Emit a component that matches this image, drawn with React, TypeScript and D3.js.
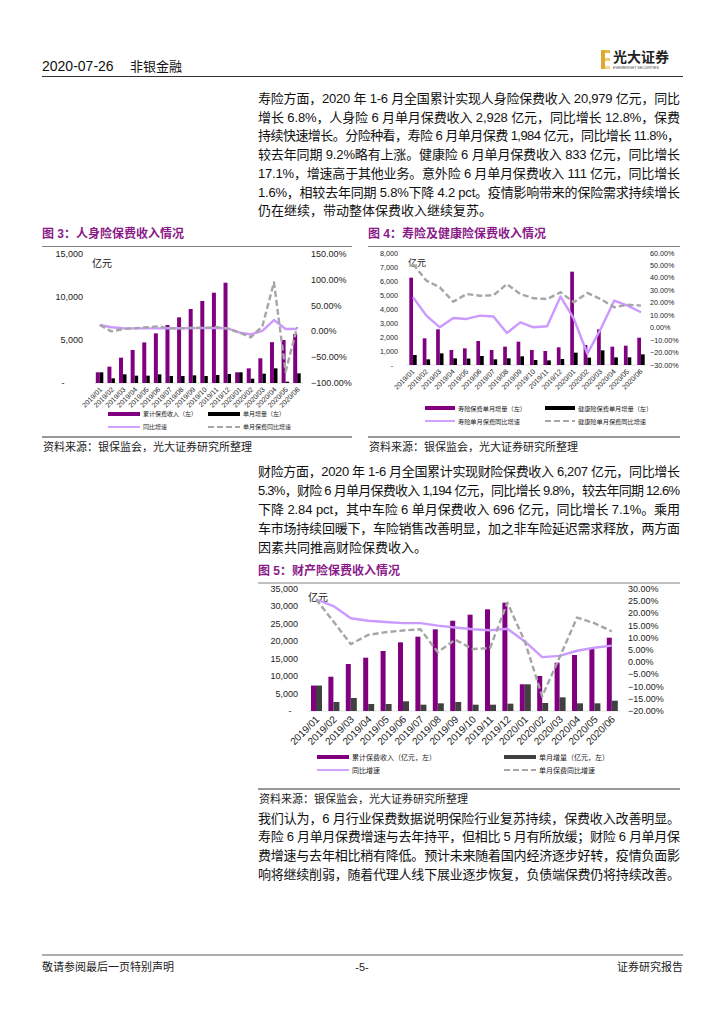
import React from 'react';
import * as d3 from 'd3';

const FONT = "'Liberation Sans', 'Noto Sans CJK SC', sans-serif";

const CAT = ['2019/01','2019/02','2019/03','2019/04','2019/05','2019/06','2019/07','2019/08','2019/09','2019/10','2019/11','2019/12','2020/01','2020/02','2020/03','2020/04','2020/05','2020/06'];

// Fig 3 人身险
const lifeCumPremium = [1244, 1900, 2946, 3837, 4720, 5775, 6744, 7636, 8605, 9535, 10500, 11663, 1244, 1705, 2870, 4750, 5000, 5698];
const lifeMonthlyAdd = [1244, 545, 1008, 853, 853, 1008, 814, 814, 891, 814, 930, 1047, 1244, 500, 1085, 1705, 150, 1124];
const lifeCumYoY = [12.4, 8, 6, 5.8, 5.8, 5.8, 6, 6, 6.4, 6.4, 6.4, 6, -2, -6, 1, 22, 4.6, 4.6];
const lifeMonthlyYoY = [12.4, 0, 4.6, 6, 8, 9.7, 5.8, 5.8, 7, 7, 8.4, 5.8, -2, -11.6, 10, 95, -78, 8.4];
const fig3LeftTicks = [0, 5000, 10000, 15000];
const fig3RightTicks = [-100, -50, 0, 50, 100, 150];
const fig3Legend = ['累计保费收入（左）', '单月增量（左）', '同比增速', '单月保费同比增速'];

// Fig 4 寿险及健康险
const lifeSingle = [6238, 1905, 2548, 1071, 1190, 1714, 1071, 1310, 1667, 1071, 1000, 1262, 6667, 1428, 2548, 1310, 1381, 1950];
const healthSingle = [714, 405, 833, 476, 458, 643, 405, 476, 619, 357, 333, 429, 881, 524, 1048, 548, 548, 762];
const lifeSingleYoY = [24.4, 9.7, 0.3, 7.8, 7, 9.7, 9, -4.3, 4.3, 0.3, 1.1, 25, 7, -21, -1, 21.7, 17.7, 12.4];
const healthSingleYoY = [51, 37.8, 32.4, 20.9, 27, 25.7, 26, 35, 27, 23.6, 23, 28.4, 20.4, 27.9, 23, 16.4, 18.5, 17.7];
const fig4LeftTicks = [0, 1000, 2000, 3000, 4000, 5000, 6000, 7000, 8000];
const fig4RightTicks = [-30, -20, -10, 0, 10, 20, 30, 40, 50, 60];
const fig4Legend = ['寿险保费单月增量（左）', '健康险保费单月增量（左）', '寿险单月保费同比增速', '健康险单月保费同比增速'];

// Fig 5 财产险
const propCum = [7300, 9840, 13480, 15290, 17210, 19700, 21320, 23430, 25900, 27630, 29170, 31070, 7660, 10040, 13860, 16060, 17980, 21030];
const propMonthly = [7300, 2580, 3730, 2010, 2010, 2780, 1810, 2200, 2580, 1810, 1810, 2100, 7660, 2300, 3920, 2200, 2200, 2960];
const propCumYoY = [25.8, 23, 18, 17, 16.5, 16, 16, 15, 14.2, 13.5, 13.1, 13.7, 8.5, 2.1, 2.6, 4.7, 5.9, 6.8];
const propMonthlyYoY = [25.8, 16.7, 7.4, 11.2, 12.3, 13, 13.5, 4.1, 9.2, 5.4, 5.8, 24.4, 8.5, -14, 2, 18.3, 16, 12.6];
const fig5LeftTicks = [0, 5000, 10000, 15000, 20000, 25000, 30000, 35000];
const fig5RightTicks = [-20, -15, -10, -5, 0, 5, 10, 15, 20, 25, 30];
const fig5Legend = ['累计保费收入（亿元，左）', '单月增量（亿元，左）', '同比增速', '单月保费同比增速'];

const para1 = [
  '寿险方面，2020 年 1-6 月全国累计实现人身险保费收入 20,979 亿元，同比',
  '增长 6.8%，人身险 6 月单月保费收入 2,928 亿元，同比增长 12.8%，保费',
  '持续快速增长。分险种看，寿险 6 月单月保费 1,984 亿元，同比增长 11.8%，',
  '较去年同期 9.2%略有上涨。健康险 6 月单月保费收入 833 亿元，同比增长',
  '17.1%，增速高于其他业务。意外险 6 月单月保费收入 111 亿元，同比增长',
  '1.6%，相较去年同期 5.8%下降 4.2 pct。疫情影响带来的保险需求持续增长',
  '仍在继续，带动整体保费收入继续复苏。',
];
const para2 = [
  '财险方面，2020 年 1-6 月全国累计实现财险保费收入 6,207 亿元，同比增长',
  '5.3%，财险 6 月单月保费收入 1,194 亿元，同比增长 9.8%，较去年同期 12.6%',
  '下降 2.84 pct，其中车险 6 单月保费收入 696 亿元，同比增长 7.1%。乘用',
  '车市场持续回暖下，车险销售改善明显，加之非车险延迟需求释放，两方面',
  '因素共同推高财险保费收入。',
];
const para3 = [
  '我们认为，6 月行业保费数据说明保险行业复苏持续，保费收入改善明显。',
  '寿险 6 月单月保费增速与去年持平，但相比 5 月有所放缓；财险 6 月单月保',
  '费增速与去年相比稍有降低。预计未来随着国内经济逐步好转，疫情负面影',
  '响将继续削弱，随着代理人线下展业逐步恢复，负债端保费仍将持续改善。',
];

const PURPLE = '#800080';
const LAV = '#CC99FF';
const GRAY = '#A6A6A6';
const TITLE = '#8B1A89';

type BarS = { values: number[]; color: string; off: number; w: number };
type LineS = { values: number[]; color: string; dash?: string };

type ComboProps = {
  x0: number; x1: number; yB: number; yT: number;
  leftDomain: [number, number]; rightDomain: [number, number];
  leftTicks: number[]; rightTicks: number[];
  leftLabelRight: number; rightLabelLeft: number; tickFont: number; zeroDashX: number;
  unit: { x: number; y: number; size: number };
  bars: BarS[]; lines: LineS[];
  xLabel: { size: number; dx: number; dy: number };
  legend: { rows: number[]; sx: number[]; sw: number; font: number; labels: string[] };
  lineW: number;
};

function Combo(p: ComboProps) {
  const x = d3.scaleBand<string>().domain(CAT).range([p.x0, p.x1]);
  const cx = (c: string) => (x(c) as number) + x.bandwidth() / 2;
  const yl = d3.scaleLinear().domain(p.leftDomain).range([p.yB, p.yT]);
  const yr = d3.scaleLinear().domain(p.rightDomain).range([p.yB, p.yT]);
  const fmtL = (v: number) => (v === 0 ? '-' : d3.format(',')(v));
  const fmtR = (v: number) => d3.format('.2f')(v) + '%';
  const lg = d3.line<number>().x((_, i) => cx(CAT[i])).y((v) => yr(v));
  const leg = p.legend;
  const items = [
    { kind: 'bar', color: p.bars[0].color, dash: undefined as string | undefined },
    { kind: 'bar', color: p.bars[1].color, dash: undefined },
    { kind: 'line', color: p.lines[0].color, dash: p.lines[0].dash },
    { kind: 'line', color: p.lines[1].color, dash: p.lines[1].dash },
  ];
  return (
    <g fontFamily={FONT}>
      <line x1={p.x0} x2={p.x1} y1={p.yB} y2={p.yB} stroke="#D9D9D9" strokeWidth={0.8} />
      {p.leftTicks.map((t) => (
        <text key={'l' + t} x={t === 0 ? p.zeroDashX : p.leftLabelRight} y={yl(t)} fontSize={p.tickFont}
          textAnchor={t === 0 ? 'middle' : 'end'} dominantBaseline="central" fill="#222">{fmtL(t)}</text>
      ))}
      {p.rightTicks.map((t) => (
        <text key={'r' + t} x={p.rightLabelLeft} y={yr(t)} fontSize={p.tickFont}
          textAnchor="start" dominantBaseline="central" fill="#222">{fmtR(t)}</text>
      ))}
      <text x={p.unit.x} y={p.unit.y} fontSize={p.unit.size} dominantBaseline="central" fill="#222">亿元</text>
      {p.bars.map((b, bi) => (
        <g key={'b' + bi}>
          {b.values.map((v, i) => (
            <rect key={i} x={cx(CAT[i]) + b.off} width={b.w} y={yl(v)} height={p.yB - yl(v)} fill={b.color} />
          ))}
        </g>
      ))}
      {p.lines.map((l, li) => (
        <path key={'ln' + li} d={lg(l.values) || ''} fill="none" stroke={l.color} strokeWidth={p.lineW}
          strokeDasharray={l.dash} strokeLinejoin="round" />
      ))}
      {CAT.map((c) => (
        <text key={'x' + c} transform={`translate(${cx(c) + p.xLabel.dx},${p.yB + p.xLabel.dy}) rotate(-45)`}
          fontSize={p.xLabel.size} textAnchor="end" fill="#222">{c}</text>
      ))}
      {items.map((it, i) => {
        const row = Math.floor(i / 2);
        const col = i % 2;
        const y = leg.rows[row];
        const sx = leg.sx[col];
        return (
          <g key={'lg' + i}>
            {it.kind === 'bar' ? (
              <rect x={sx} y={y - 2} width={leg.sw} height={4} fill={it.color} />
            ) : (
              <line x1={sx} x2={sx + leg.sw} y1={y} y2={y} stroke={it.color} strokeWidth={1.8} strokeDasharray={it.dash} />
            )}
            <text x={sx + leg.sw + 3} y={y} fontSize={leg.font} dominantBaseline="central" fill="#222">{leg.labels[i]}</text>
          </g>
        );
      })}
    </g>
  );
}

function Para({ lines, y0, dy, lastFull }: { lines: string[]; y0: number; dy: number; lastFull?: boolean }) {
  return (
    <g fontFamily={FONT} fontSize={13} fill="#111">
      {lines.map((t, i) => {
        const justify = i < lines.length - 1 || lastFull;
        return (
          <text key={i} x={258} y={y0 + i * dy} dominantBaseline="central"
            {...(justify ? { textLength: 422, lengthAdjust: 'spacing' } : {})}>{t}</text>
        );
      })}
    </g>
  );
}

function Title({ x, y, text, x2 }: { x: number; y: number; text: string; x2: number }) {
  return (
    <g fontFamily={FONT}>
      <text x={x} y={y} fontSize={12} fontWeight="bold" fill={TITLE} dominantBaseline="central">{text}</text>
      <line x1={x} x2={x2} y1={y + 12.5} y2={y + 12.5} stroke="#808080" strokeWidth={1} />
    </g>
  );
}

function Source({ x, y, x2 }: { x: number; y: number; x2: number }) {
  return (
    <g fontFamily={FONT}>
      <line x1={x} x2={x2} y1={y} y2={y} stroke="#333" strokeWidth={1} />
      <text x={x + 1} y={y + 9.5} fontSize={11} fill="#222" dominantBaseline="central">资料来源：银保监会，光大证券研究所整理</text>
    </g>
  );
}

export default function App() {
  return (
    <svg width={724} height={1024} style={{ position: 'absolute', left: 0, top: 0, background: '#fff' }}>
      <rect x={0} y={0} width={724} height={1024} fill="#fff" />
      {/* Header */}
      <g fontFamily={FONT}>
        <text x={42} y={66} fontSize={14} fill="#111" dominantBaseline="central">2020-07-26</text>
        <text x={130} y={66} fontSize={13} fill="#111" dominantBaseline="central">非银金融</text>
        <rect x={601} y={50} width={4} height={19} fill="#E0A82E" />
        <rect x={605} y={50} width={5} height={3} fill="#E8B94A" />
        <rect x={605} y={58} width={5} height={3} fill="#F0CC70" />
        <rect x={605} y={66} width={5} height={3} fill="#F4D890" />
        <text x={613} y={57} fontSize={14} fontWeight="bold" fill="#222" dominantBaseline="central">光大证券</text>
        <text x={613} y={68} fontSize={3.6} fill="#444" dominantBaseline="central">EVERBRIGHT SECURITIES</text>
        <line x1={42} x2={683} y1={76.5} y2={76.5} stroke="#333" strokeWidth={1.2} />
      </g>

      <Para lines={para1} y0={98.5} dy={18.7} />

      <Title x={42} y={234} x2={352} text="图 3：人身险保费收入情况" />
      <Title x={368} y={234} x2={680} text="图 4：寿险及健康险保费收入情况" />

      <Combo
        x0={94} x1={303} yB={383} yT={254}
        leftDomain={[0, 15000]} rightDomain={[-100, 150]}
        leftTicks={fig3LeftTicks} rightTicks={fig3RightTicks}
        leftLabelRight={83} rightLabelLeft={311} tickFont={9} zeroDashX={63}
        unit={{ x: 92, y: 263, size: 10 }}
        bars={[{ values: lifeCumPremium, color: PURPLE, off: -4, w: 4 }, { values: lifeMonthlyAdd, color: '#000', off: 0, w: 3.5 }]}
        lines={[{ values: lifeCumYoY, color: LAV }, { values: lifeMonthlyYoY, color: GRAY, dash: '6,3' }]}
        xLabel={{ size: 7, dx: 3, dy: 7 }}
        legend={{ rows: [414, 427], sx: [108, 208], sw: 32, font: 6, labels: fig3Legend }}
        lineW={2.4}
      />

      <Combo
        x0={406.3} x1={647.7} yB={365} yT={253}
        leftDomain={[0, 8000]} rightDomain={[-30, 60]}
        leftTicks={fig4LeftTicks} rightTicks={fig4RightTicks}
        leftLabelRight={398} rightLabelLeft={650} tickFont={7.2} zeroDashX={392}
        unit={{ x: 408, y: 263, size: 9 }}
        bars={[{ values: lifeSingle, color: PURPLE, off: -3.7, w: 3.7 }, { values: healthSingle, color: '#000', off: 0, w: 3.7 }]}
        lines={[{ values: lifeSingleYoY, color: LAV }, { values: healthSingleYoY, color: GRAY, dash: '6,3' }]}
        xLabel={{ size: 7, dx: 2, dy: 7 }}
        legend={{ rows: [408, 421], sx: [425, 545], sw: 30, font: 6.2, labels: fig4Legend }}
        lineW={2.4}
      />

      <Source x={42} y={437} x2={352} />
      <Source x={368} y={437} x2={680} />

      <Para lines={para2} y0={471} dy={19} />

      <Title x={258} y={570.5} x2={680} text="图 5：财产险保费收入情况" />

      <Combo
        x0={307.3} x1={620.5} yB={711} yT={589}
        leftDomain={[0, 35000]} rightDomain={[-20, 30]}
        leftTicks={fig5LeftTicks} rightTicks={fig5RightTicks}
        leftLabelRight={298} rightLabelLeft={628} tickFont={9} zeroDashX={290}
        unit={{ x: 308, y: 597, size: 10 }}
        bars={[{ values: propCum, color: PURPLE, off: -5, w: 5 }, { values: propMonthly, color: '#404040', off: 0, w: 6 }]}
        lines={[{ values: propCumYoY, color: LAV }, { values: propMonthlyYoY, color: GRAY, dash: '6,3' }]}
        xLabel={{ size: 10, dx: 4, dy: 9 }}
        legend={{ rows: [757, 770], sx: [317, 504], sw: 32, font: 7, labels: fig5Legend }}
        lineW={2.4}
      />

      <Source x={258} y={789} x2={680} />

      <Para lines={para3} y0={818} dy={18.8} lastFull />

      {/* Footer */}
      <g fontFamily={FONT} fontSize={11} fill="#222">
        <line x1={42} x2={683} y1={955} y2={955} stroke="#333" strokeWidth={0.8} />
        <text x={42} y={967} dominantBaseline="central">敬请参阅最后一页特别声明</text>
        <text x={362} y={967} textAnchor="middle" dominantBaseline="central">-5-</text>
        <text x={683} y={967} textAnchor="end" dominantBaseline="central">证券研究报告</text>
      </g>
    </svg>
  );
}
